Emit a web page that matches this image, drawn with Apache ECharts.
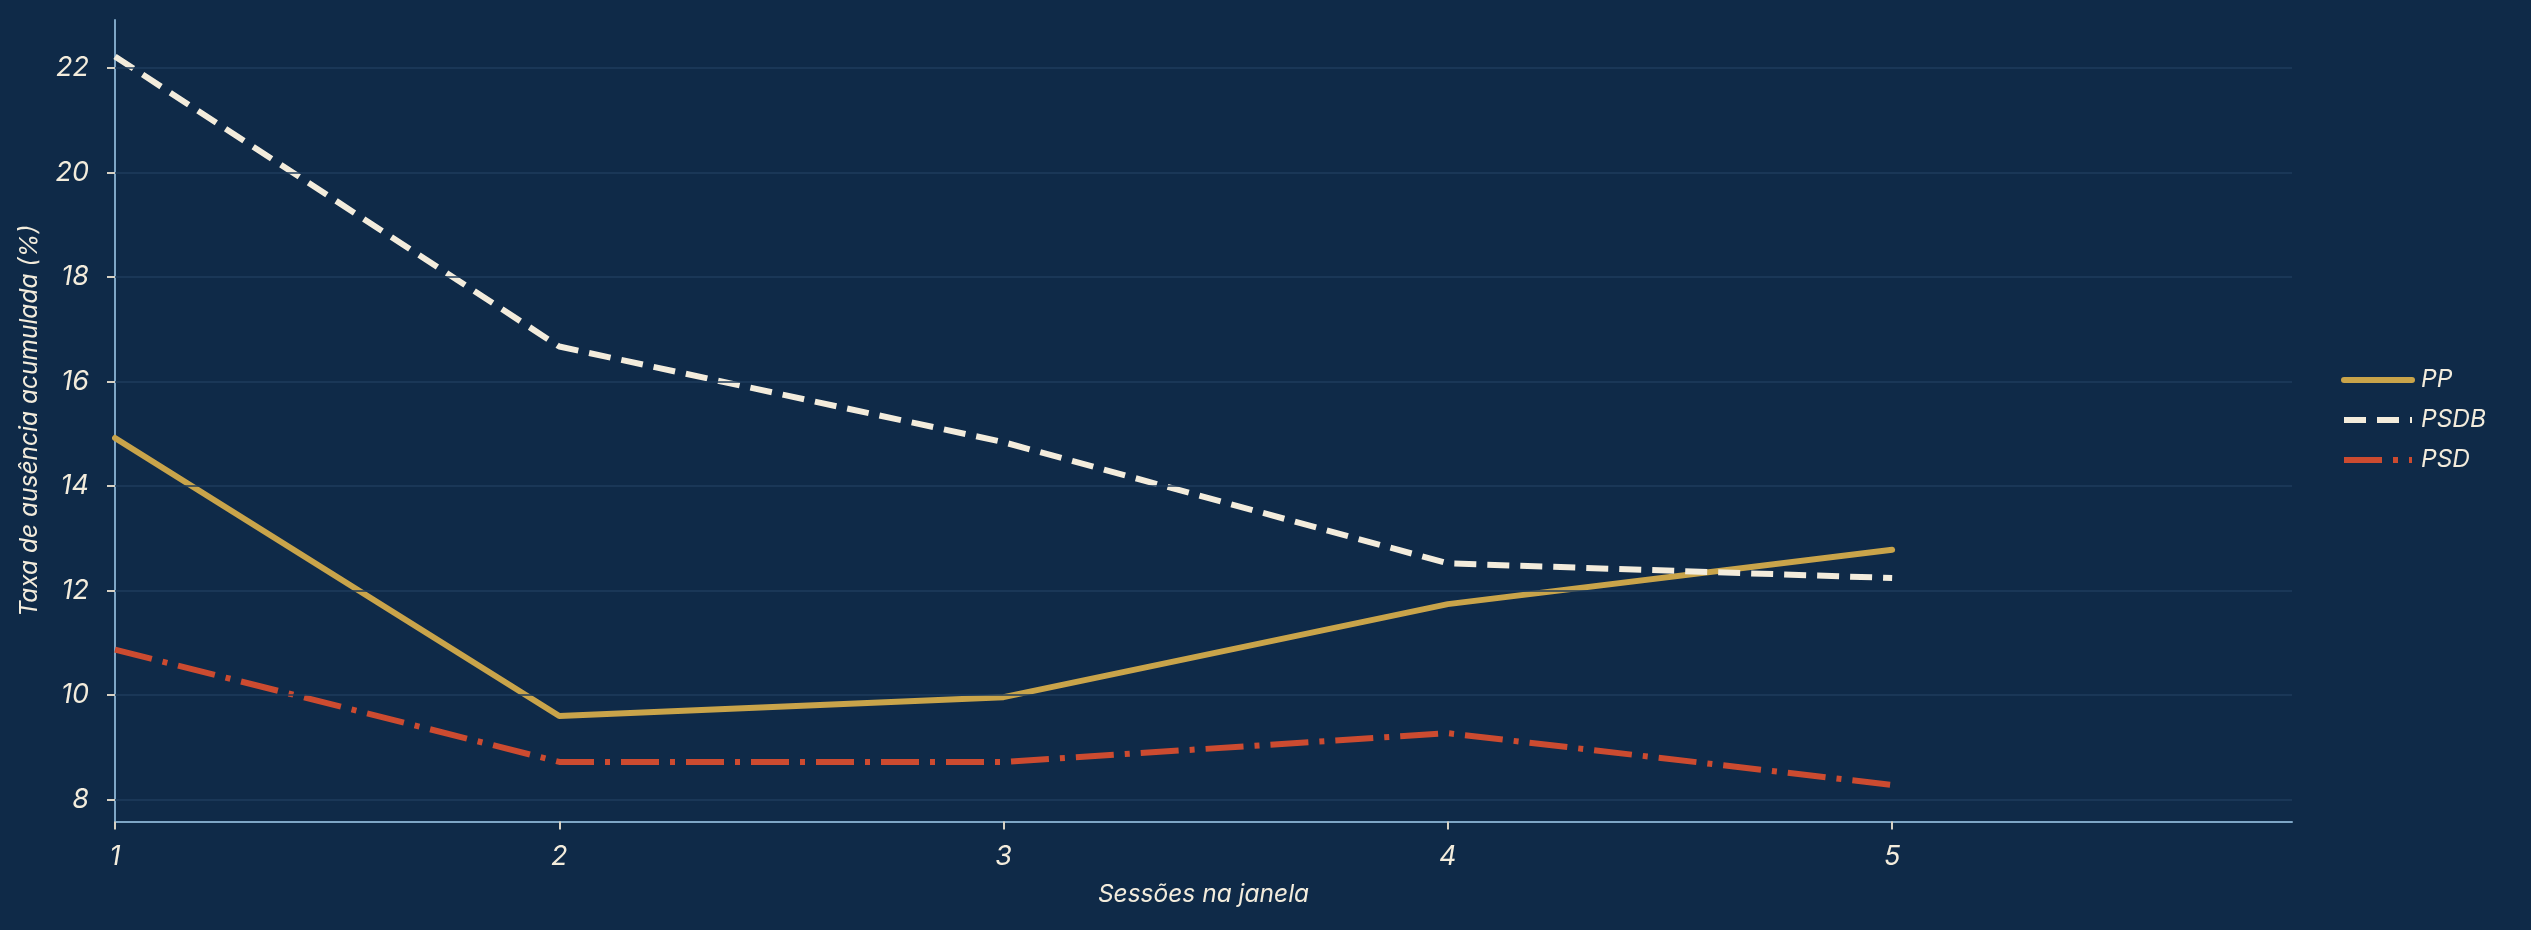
<!DOCTYPE html>
<html>
<head>
<meta charset="utf-8">
<script src="https://cdn.jsdelivr.net/npm/echarts@6/dist/echarts.min.js"></script>
<style>
html,body{margin:0;padding:0;background:#0f2a48;}
#c{width:2531px;height:930px;}
</style>
</head>
<body>
<div id="c"></div>
<script>
const sessions = [1, 2, 3, 4, 5];
const ppValues = [14.92, 9.60, 9.96, 11.74, 12.78];
const psdbValues = [22.22, 16.67, 14.84, 12.52, 12.24];
const psdValues = [10.87, 8.72, 8.72, 9.27, 8.28];
const yTicks = [8, 10, 12, 14, 16, 18, 20, 22];
const xTicks = [1, 2, 3, 4, 5];
const seriesNames = ['PP', 'PSDB', 'PSD'];

const BG = '#0f2a48';
const CREAM = '#f3ecdc';
const GOLD = '#c9a44a';
const RED = '#cc4b30';
const AXIS = '#7ea6c6';
const GRID = '#1f3c5c';
const FONT = 'Inter, "Open Sans", sans-serif';

const pairs = (vals) => sessions.map((s, i) => [s, vals[i]]);

const chart = echarts.init(document.getElementById('c'), null, {renderer: 'canvas'});
chart.setOption({
  backgroundColor: BG,
  animation: false,
  grid: {left: 115, right: 239, top: 20, bottom: 108.5, containLabel: false},
  legend: {
    orient: 'vertical',
    left: 2336,
    top: 360,
    itemWidth: 68,
    itemHeight: 14,
    itemGap: 10,
    data: seriesNames,
    itemStyle: {opacity: 0},
    lineStyle: {width: 6},
    textStyle: {color: CREAM, fontSize: 24.5, fontStyle: 'italic', fontFamily: FONT, lineHeight: 30, padding: [0, 0, 0, 4]}
  },
  xAxis: {
    type: 'value',
    min: 1,
    max: 5.9,
    name: 'Sessões na janela',
    nameLocation: 'middle',
    nameGap: 61,
    nameTextStyle: {color: CREAM, fontSize: 24.5, fontStyle: 'italic', fontFamily: FONT},
    axisLine: {show: true, lineStyle: {color: AXIS, width: 2}},
    axisTick: {show: true, customValues: xTicks, length: 8, lineStyle: {color: '#d8d2c4', width: 2}},
    axisLabel: {customValues: xTicks, color: CREAM, fontSize: 27, fontStyle: 'italic', fontFamily: FONT, margin: 22},
    splitLine: {show: false}
  },
  yAxis: {
    type: 'value',
    min: 7.58,
    max: 22.92,
    name: 'Taxa de ausência acumulada (%)',
    nameLocation: 'middle',
    nameGap: 73,
    nameTextStyle: {color: CREAM, fontSize: 24.5, fontStyle: 'italic', fontFamily: FONT},
    axisLine: {show: true, lineStyle: {color: AXIS, width: 2}},
    axisTick: {show: true, customValues: yTicks, length: 8, lineStyle: {color: '#d8d2c4', width: 2}},
    axisLabel: {customValues: yTicks, color: CREAM, fontSize: 27, fontStyle: 'italic', fontFamily: FONT, margin: 26},
    splitLine: {show: false}
  },
  series: [
    {
      name: '__grid', type: 'line', data: [], z: 1, silent: true,
      markLine: {
        silent: true, symbol: ['none', 'none'], label: {show: false},
        lineStyle: {color: GRID, width: 1.5, type: 'solid'},
        emphasis: {disabled: true},
        data: yTicks.map(v => ({yAxis: v}))
      }
    },
    {
      name: 'PP', type: 'line', data: pairs(ppValues), z: 3,
      showSymbol: false, symbol: 'none', color: GOLD,
      lineStyle: {color: GOLD, width: 6, cap: 'round', join: 'round'}
    },
    {
      name: 'PSDB', type: 'line', data: pairs(psdbValues), z: 3,
      showSymbol: false, symbol: 'none', color: CREAM,
      lineStyle: {color: CREAM, width: 6, type: [22, 11], cap: 'butt'}
    },
    {
      name: 'PSD', type: 'line', data: pairs(psdValues), z: 3,
      showSymbol: false, symbol: 'none', color: RED,
      lineStyle: {color: RED, width: 6, type: [38, 11, 5, 11], cap: 'butt'}
    }
  ]
});
</script>
</body>
</html>
